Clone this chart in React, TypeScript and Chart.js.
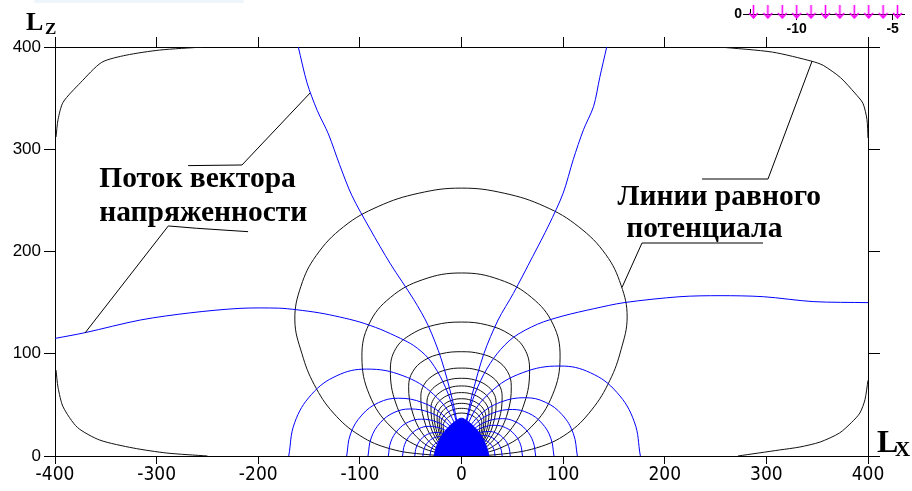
import React, { useEffect, useRef } from "react";
import { Chart, registerables } from "chart.js";

Chart.register(...registerables);

type Pt = [number, number];

// ---- axis ticks ----
const xTickValues = [-400, -300, -200, -100, 0, 100, 200, 300, 400];
const yTickValues = [0, 100, 200, 300, 400];
const insetTickValues = [-10, -5];
const insetYTickValues = [0];

// ---- inset: surface charge arrows ----
const insetArrowX = [-12.25, -11.5, -10.75, -10, -9.25, -8.5, -7.75, -7, -6.25, -5.5, -4.75];
const insetArrowY = 0.45;

// ---- equipotential lines (black) ----
const cornerTopLeft: Pt[] = [[-254, 400], [-297, 397], [-330, 392], [-354, 385], [-375, 365], [-392, 346], [-397, 329], [-399, 312]];
const cornerBottomLeft: Pt[] = [[-399, 84], [-397, 67], [-392, 48], [-378, 28], [-356, 15.6], [-323, 7.8], [-290, 2.9], [-250, 0]];
const cornerTopRight: Pt[] = [[254, 400], [306, 395], [345, 386], [356, 382], [373, 370], [387, 355], [395, 345], [399, 329], [400, 311]];
const cornerBottomRight: Pt[] = [[400, 74], [397, 55], [392, 42], [384, 33], [372, 22.5], [353, 13.7], [333, 8.8], [313, 5.9], [272, 0]];

const equipotential1: Pt[] = [[0, 0], [-35, 1.5], [-70, 7], [-100, 20], [-126, 42], [-145, 70], [-157, 100], [-164, 133], [-158, 166], [-143, 196], [-116, 224.2], [-82, 244], [-42, 257], [0, 262], [42, 257], [82, 244], [115.3, 224.2], [142, 197], [157, 167], [163, 136], [157, 104], [146, 74], [128, 45], [104, 22], [74, 8], [36, 1.5], [0, 0]];
const equipotential2: Pt[] = [[0, 0], [-37.5, 7.4], [-69.3, 28.4], [-90.6, 59.8], [-98, 97], [-91, 129], [-70, 155], [-38, 172.5], [0, 179], [37.5, 172.5], [69, 155], [90, 129], [97, 97], [89.6, 59.8], [68.6, 28.4], [37.2, 7.4], [0, 0]];
const equipotential3: Pt[] = [[0, 0], [-26.8, 6.4], [-49.5, 24.6], [-64.7, 51.8], [-70, 84], [-64.7, 105], [-49.5, 119], [-26.8, 128], [0, 131], [25.7, 128], [47.4, 119], [61.9, 105], [67, 84], [61.9, 51.8], [47.4, 24.6], [25.7, 6.4], [0, 0]];
const equipotential4: Pt[] = [[0, 0], [-19.9, 5.2], [-36.8, 19.9], [-48, 42], [-52, 68], [-48, 82.5], [-36.8, 93.5], [-19.9, 100], [0, 102], [18.8, 100], [34.6, 93.5], [45.3, 82.5], [49, 68], [45.3, 42], [34.6, 19.9], [18.8, 5.2], [0, 0]];
const equipotential5: Pt[] = [[0, 0], [-15.3, 4.4], [-28.3, 17], [-37, 35.8], [-40, 58], [-37, 69.5], [-28.3, 78.5], [-15.3, 84.2], [0, 86], [15.3, 84.2], [28.3, 78.5], [37, 69.5], [40, 58], [37, 35.8], [28.3, 17], [15.3, 4.4], [0, 0]];
const equipotential6: Pt[] = [[0, 0], [-13, 4], [-24, 15.2], [-31.4, 32.1], [-34, 52], [-31.4, 61.8], [-24, 69.5], [-13, 74.4], [0, 76], [13, 74.4], [24, 69.5], [31.4, 61.8], [34, 52], [31.4, 32.1], [24, 15.2], [13, 4], [0, 0]];
const equipotential7: Pt[] = [[0, 0], [-11.5, 3.6], [-21.2, 13.8], [-27.7, 29], [-30, 47], [-27.7, 55.2], [-21.2, 62.2], [-11.5, 66.9], [0, 68.5], [11.5, 66.9], [21.2, 62.2], [27.7, 55.2], [30, 47], [27.7, 29], [21.2, 13.8], [11.5, 3.6], [0, 0]];
const equipotential8: Pt[] = [[0, 0], [-10.3, 3.2], [-19.1, 12.3], [-24.9, 25.9], [-27, 42], [-24.9, 49.7], [-19.1, 56.1], [-10.3, 60.5], [0, 62], [10.3, 60.5], [19.1, 56.1], [24.9, 49.7], [27, 42], [24.9, 25.9], [19.1, 12.3], [10.3, 3.2], [0, 0]];
const equipotential9: Pt[] = [[0, 0], [-9.2, 2.9], [-17, 11.1], [-22.2, 23.4], [-24, 38], [-22.2, 44.9], [-17, 50.7], [-9.2, 54.6], [0, 56], [9.2, 54.6], [17, 50.7], [22.2, 44.9], [24, 38], [22.2, 23.4], [17, 11.1], [9.2, 2.9], [0, 0]];
const equipotential10: Pt[] = [[0, 0], [-8.4, 2.7], [-15.6, 10.3], [-20.3, 21.6], [-22, 35], [-20.3, 41.3], [-15.6, 46.7], [-8.4, 50.2], [0, 51.5], [8.4, 50.2], [15.6, 46.7], [20.3, 41.3], [22, 35], [20.3, 21.6], [15.6, 10.3], [8.4, 2.7], [0, 0]];
const equipotential11: Pt[] = [[0, 0], [-7.7, 2.4], [-14.1, 9.4], [-18.5, 19.7], [-20, 32], [-18.5, 37.6], [-14.1, 42.3], [-7.7, 45.5], [0, 46.6], [7.7, 45.5], [14.1, 42.3], [18.5, 37.6], [20, 32], [18.5, 19.7], [14.1, 9.4], [7.7, 2.4], [0, 0]];
const equipotential12: Pt[] = [[0, 0], [-6.9, 2.2], [-12.7, 8.5], [-16.6, 17.9], [-18, 29], [-16.6, 34], [-12.7, 38.2], [-6.9, 41], [0, 42], [6.9, 41], [12.7, 38.2], [16.6, 34], [18, 29], [16.6, 17.9], [12.7, 8.5], [6.9, 2.2], [0, 0]];

// ---- lines of the field vector flux (blue) ----
const fieldUpLeft: Pt[] = [[-160.6, 400], [-152, 365], [-142, 338], [-131, 315], [-120, 285], [-108, 255], [-90, 222], [-70, 188], [-47, 153], [-33, 128], [-20, 95], [-9, 55], [-2, 20], [0, 0]];
const fieldUpRight: Pt[] = [[142.9, 400], [136, 370], [130, 342], [120, 319], [110, 290], [100, 257], [86, 226], [70, 195], [51, 159], [36, 133], [22, 100], [10, 58], [2, 20], [0, 0]];
const fieldSideLeft: Pt[] = [[-400, 115], [-370.5, 120.6], [-316, 133], [-267, 140], [-218, 144.4], [-180, 144.6], [-162, 143], [-140, 140], [-120, 136], [-100, 131], [-80, 124], [-60, 115], [-47, 108], [-33, 96], [-21, 78], [-11, 55], [-4, 28], [0, 0]];
const fieldSideRight: Pt[] = [[0, 0], [4, 28], [11, 55], [22, 80], [35, 100], [51, 116], [75, 129], [100, 137], [130, 144], [160, 150], [215, 155.8], [254.4, 156.8], [297, 155.8], [346, 151], [400, 150]];

const arcLeft170: Pt[] = [[-170, 0], [-164.2, 32.5], [-147.6, 60.2], [-122.7, 78.5], [-93.5, 85], [-57.6, 78.5], [-27.4, 60.2], [-7.1, 32.5], [0, 0]];
const arcLeft113: Pt[] = [[-113, 0], [-109.2, 21.6], [-98.1, 40], [-81.6, 52.2], [-62.2, 56.5], [-38.3, 52.2], [-18.2, 40], [-4.7, 21.6], [0, 0]];
const arcLeft92: Pt[] = [[-92, 0], [-88.9, 17.6], [-79.9, 32.6], [-66.4, 42.5], [-50.6, 46], [-31.2, 42.5], [-14.8, 32.6], [-3.9, 17.6], [0, 0]];
const arcLeft72: Pt[] = [[-72, 0], [-69.6, 13.8], [-62.5, 25.5], [-52, 33.3], [-39.6, 36], [-24.4, 33.3], [-11.6, 25.5], [-3, 13.8], [0, 0]];
const arcLeft58: Pt[] = [[-58, 0], [-56, 11.1], [-50.3, 20.5], [-41.9, 26.8], [-31.9, 29], [-19.7, 26.8], [-9.3, 20.5], [-2.4, 11.1], [0, 0]];
const arcLeft46: Pt[] = [[-46, 0], [-44.4, 8.8], [-39.9, 16.3], [-33.2, 21.3], [-25.3, 23], [-15.6, 21.3], [-7.4, 16.3], [-1.9, 8.8], [0, 0]];
const arcLeft38: Pt[] = [[-38, 0], [-36.7, 7.3], [-33, 13.5], [-27.4, 17.6], [-20.9, 19], [-12.9, 17.6], [-6.1, 13.5], [-1.6, 7.3], [0, 0]];
const arcLeft31: Pt[] = [[-31, 0], [-29.9, 5.9], [-26.9, 11], [-22.4, 14.3], [-17.1, 15.5], [-10.5, 14.3], [-5, 11], [-1.3, 5.9], [0, 0]];

const arcRight176: Pt[] = [[176, 0], [170, 33.6], [152.8, 62.3], [127.1, 81.3], [96.8, 88], [59.7, 81.3], [28.3, 62.3], [7.4, 33.6], [0, 0]];
const arcRight114: Pt[] = [[114, 0], [110.1, 21.8], [99, 40.4], [82.3, 52.7], [62.7, 57], [38.6, 52.7], [18.4, 40.4], [4.8, 21.8], [0, 0]];
const arcRight91: Pt[] = [[91, 0], [87.9, 17.4], [79, 32.2], [65.7, 42], [50, 45.5], [30.8, 42], [14.7, 32.2], [3.8, 17.4], [0, 0]];
const arcRight73: Pt[] = [[73, 0], [70.5, 13.9], [63.4, 25.8], [52.7, 33.7], [40.2, 36.5], [24.7, 33.7], [11.8, 25.8], [3.1, 13.9], [0, 0]];
const arcRight60: Pt[] = [[60, 0], [58, 11.5], [52.1, 21.2], [43.3, 27.7], [33, 30], [20.3, 27.7], [9.7, 21.2], [2.5, 11.5], [0, 0]];
const arcRight48: Pt[] = [[48, 0], [46.4, 9.2], [41.7, 17], [34.7, 22.2], [26.4, 24], [16.3, 22.2], [7.7, 17], [2, 9.2], [0, 0]];
const arcRight40: Pt[] = [[40, 0], [38.6, 7.6], [34.7, 14.2], [28.9, 18.5], [22, 20], [13.6, 18.5], [6.4, 14.2], [1.7, 7.6], [0, 0]];
const arcRight33: Pt[] = [[33, 0], [31.9, 6.3], [28.6, 11.7], [23.8, 15.2], [18.2, 16.5], [11.2, 15.2], [5.3, 11.7], [1.4, 6.3], [0, 0]];

// dense core of lines around the charge
const coreOutline: Pt[] = [[-27, 0], [-25, 8], [-21, 17], [-14, 27], [-6, 34], [0, 37], [6, 34], [14, 27], [21, 17], [25, 8], [27, 0]];

const cornerLines = [cornerTopLeft, cornerBottomLeft, cornerTopRight, cornerBottomRight];
const equipotentials = [
  equipotential1, equipotential2, equipotential3, equipotential4, equipotential5, equipotential6,
  equipotential7, equipotential8, equipotential9, equipotential10, equipotential11, equipotential12,
];
const fieldLines = [fieldUpLeft, fieldUpRight, fieldSideLeft, fieldSideRight];
const fieldArcs = [
  arcLeft170, arcLeft113, arcLeft92, arcLeft72, arcLeft58, arcLeft46, arcLeft38, arcLeft31,
  arcRight176, arcRight114, arcRight91, arcRight73, arcRight60, arcRight48, arcRight40, arcRight33,
];

// ---- callouts (data units) ----
const noteFont = 'bold 29.5px "Liberation Serif", "Times New Roman", serif';
const notes = [
  { text: "Поток вектора", x: -356.4, y: 262.8 },
  { text: "напряженности", x: -356.5, y: 229.8 },
  { text: "Линии равного", x: 153.5, y: 245.5 },
  { text: "потенциала", x: 162, y: 213.9 },
];
const leaders: Pt[][] = [
  [[-269, 284], [-216, 284.6], [-149, 355]],
  [[-210, 219.4], [-260.6, 222.7], [-288.5, 225], [-370.5, 120.3]],
  [[236.7, 270.9], [301.6, 270.9], [345, 386.3]],
  [[296.7, 208.3], [177.6, 208.3], [158, 165]],
];

const BLUE = "#0000ff";
const BLACK = "#111111";

const toXY = (pts: Pt[]) => pts.map(([x, y]) => ({ x, y }));

const lineSet = (pts: Pt[], color: string, tension: number) => ({
  data: toXY(pts),
  showLine: true,
  borderColor: color,
  backgroundColor: color,
  borderWidth: 1,
  pointRadius: 0,
  tension,
  fill: false,
});

const notesPlugin = {
  id: "fieldNotes",
  afterDatasetsDraw(chart: any) {
    const { ctx, scales } = chart;
    const xs = scales.x;
    const ys = scales.y;
    ctx.save();
    ctx.strokeStyle = "#000";
    ctx.lineWidth = 1;
    for (const path of leaders) {
      ctx.beginPath();
      path.forEach(([a, b], i) => {
        const px = xs.getPixelForValue(a);
        const py = ys.getPixelForValue(b);
        if (i === 0) ctx.moveTo(px, py);
        else ctx.lineTo(px, py);
      });
      ctx.stroke();
    }
    ctx.fillStyle = "#000";
    ctx.textBaseline = "alphabetic";
    ctx.textAlign = "left";
    ctx.font = noteFont;
    for (const n of notes) {
      ctx.fillText(n.text, xs.getPixelForValue(n.x), ys.getPixelForValue(n.y));
    }
    ctx.restore();
  },
  afterDraw(chart: any) {
    const { ctx, chartArea } = chart;
    ctx.save();
    ctx.fillStyle = "#000";
    ctx.textBaseline = "alphabetic";
    ctx.textAlign = "left";
    // vertical axis title L_Z
    ctx.font = 'bold 26px "Liberation Serif", serif';
    ctx.fillText("L", chartArea.left - 29, chartArea.top - 17);
    ctx.font = 'bold 17px "Liberation Serif", serif';
    ctx.fillText("Z", chartArea.left - 10, chartArea.top - 13);
    // horizontal axis title L_X
    ctx.font = 'bold 32px "Liberation Serif", serif';
    ctx.fillText("L", chartArea.right + 9, chartArea.bottom - 4);
    ctx.font = 'bold 21px "Liberation Serif", serif';
    ctx.fillText("X", chartArea.right + 27, chartArea.bottom);
    ctx.restore();
  },
};

function MainChart() {
  const ref = useRef<HTMLCanvasElement>(null);
  useEffect(() => {
    const datasets: any[] = [
      {
        data: toXY(coreOutline),
        showLine: true,
        borderColor: BLUE,
        backgroundColor: BLUE,
        borderWidth: 1,
        pointRadius: 0,
        tension: 0.3,
        fill: "origin",
      },
      ...fieldLines.map((p) => lineSet(p, BLUE, 0.3)),
      ...fieldArcs.map((p) => lineSet(p, BLUE, 0.4)),
      ...equipotentials.map((p) => lineSet(p, BLACK, 0.4)),
      ...cornerLines.map((p) => lineSet(p, BLACK, 0.25)),
    ];
    const tickFont = { family: '"Liberation Sans Narrow", "DejaVu Sans Condensed", "Liberation Sans", sans-serif', size: 19 };
    const yFont = { family: '"Liberation Sans", Arial, sans-serif', size: 17 };
    const axisGrid = (len: number) => ({ drawOnChartArea: false, drawTicks: true, tickLength: len, color: "#000", lineWidth: 1 });
    const chart = new Chart(ref.current as HTMLCanvasElement, {
      type: "scatter",
      data: { datasets },
      options: {
        animation: false,
        responsive: false,
        maintainAspectRatio: false,
        layout: { padding: 0 },
        plugins: { legend: { display: false }, tooltip: { enabled: false } },
        scales: {
          x: {
            type: "linear",
            position: "bottom",
            min: -400,
            max: 400,
            afterBuildTicks: (s: any) => { s.ticks = xTickValues.map((v) => ({ value: v })); },
            afterFit: (s: any) => { s.height = 35; },
            ticks: { color: "#000", font: tickFont, padding: 0, maxRotation: 0, autoSkip: false, callback: (v: any) => String(v) },
            grid: axisGrid(8),
            border: { color: "#000", width: 1 },
          },
          xTop: {
            type: "linear",
            position: "top",
            min: -400,
            max: 400,
            afterBuildTicks: (s: any) => { s.ticks = xTickValues.map((v) => ({ value: v })); },
            afterFit: (s: any) => { s.height = 47; },
            ticks: { display: false },
            grid: axisGrid(10),
            border: { color: "#000", width: 1 },
          },
          y: {
            type: "linear",
            position: "left",
            min: 0,
            max: 400,
            afterBuildTicks: (s: any) => { s.ticks = yTickValues.map((v) => ({ value: v })); },
            afterFit: (s: any) => { s.width = 55; },
            ticks: { color: "#000", font: yFont, padding: 3, autoSkip: false, callback: (v: any) => String(v) },
            grid: axisGrid(11),
            border: { color: "#000", width: 1 },
          },
          yRight: {
            type: "linear",
            position: "right",
            min: 0,
            max: 400,
            afterBuildTicks: (s: any) => { s.ticks = yTickValues.map((v) => ({ value: v })); },
            afterFit: (s: any) => { s.width = 44; },
            ticks: { display: false },
            grid: axisGrid(12),
            border: { color: "#000", width: 1 },
          },
        },
      } as any,
      plugins: [notesPlugin],
    });
    return () => chart.destroy();
  }, []);
  return (
    <canvas
      ref={ref}
      width={912}
      height={491}
      style={{ position: "absolute", left: 0, top: 0, width: 912, height: 491 }}
    />
  );
}

function makeArrow(): HTMLCanvasElement {
  const c = document.createElement("canvas");
  c.width = 11;
  c.height = 14;
  const g = c.getContext("2d") as CanvasRenderingContext2D;
  g.strokeStyle = "#ff00ff";
  g.lineWidth = 1.6;
  g.lineCap = "round";
  g.beginPath();
  g.moveTo(5.5, 0.5);
  g.lineTo(5.5, 13);
  g.moveTo(1.5, 8.5);
  g.lineTo(5.5, 13);
  g.lineTo(9.5, 8.5);
  g.stroke();
  return c;
}

function InsetChart() {
  const ref = useRef<HTMLCanvasElement>(null);
  useEffect(() => {
    const arrow = makeArrow();
    const insetFont = { family: '"Liberation Sans", Arial, sans-serif', size: 14, weight: "bold" as const };
    const chart = new Chart(ref.current as HTMLCanvasElement, {
      type: "scatter",
      data: {
        datasets: [
          {
            data: insetArrowX.map((x) => ({ x, y: insetArrowY })),
            pointStyle: arrow as any,
            pointRadius: 7,
            clip: false,
          },
        ],
      },
      options: {
        animation: false,
        responsive: false,
        maintainAspectRatio: false,
        layout: { padding: 0 },
        plugins: { legend: { display: false }, tooltip: { enabled: false } },
        scales: {
          x: {
            type: "linear",
            min: -12.43,
            max: -4.41,
            afterBuildTicks: (s: any) => { s.ticks = insetTickValues.map((v) => ({ value: v })); },
            afterFit: (s: any) => { s.height = 31; },
            ticks: { color: "#000", font: insetFont, padding: 1, maxRotation: 0, callback: (v: any) => String(v) },
            grid: { drawOnChartArea: false, tickLength: 6, color: "#000" },
            border: { color: "#000", width: 1 },
          },
          y: {
            type: "linear",
            min: 0,
            max: 1,
            afterBuildTicks: (s: any) => { s.ticks = insetYTickValues.map((v) => ({ value: v })); },
            afterFit: (s: any) => { s.width = 50; },
            ticks: { color: "#000", font: insetFont, padding: 1, callback: (v: any) => String(v) },
            grid: { drawOnChartArea: false, tickLength: 7, color: "#000" },
            border: { color: "#000", width: 1 },
          },
        },
      } as any,
    });
    return () => chart.destroy();
  }, []);
  return (
    <canvas
      ref={ref}
      width={212}
      height={45}
      style={{ position: "absolute", left: 700, top: 0, width: 212, height: 45 }}
    />
  );
}

export default function App() {
  return (
    <div style={{ position: "absolute", left: 0, top: 0, width: 912, height: 491, background: "#fff", overflow: "hidden" }}>
      <div style={{ position: "absolute", left: 34, top: 0, width: 210, height: 3, background: "#eef6fc", borderRadius: 2 }} />
      <MainChart />
      <InsetChart />
    </div>
  );
}
